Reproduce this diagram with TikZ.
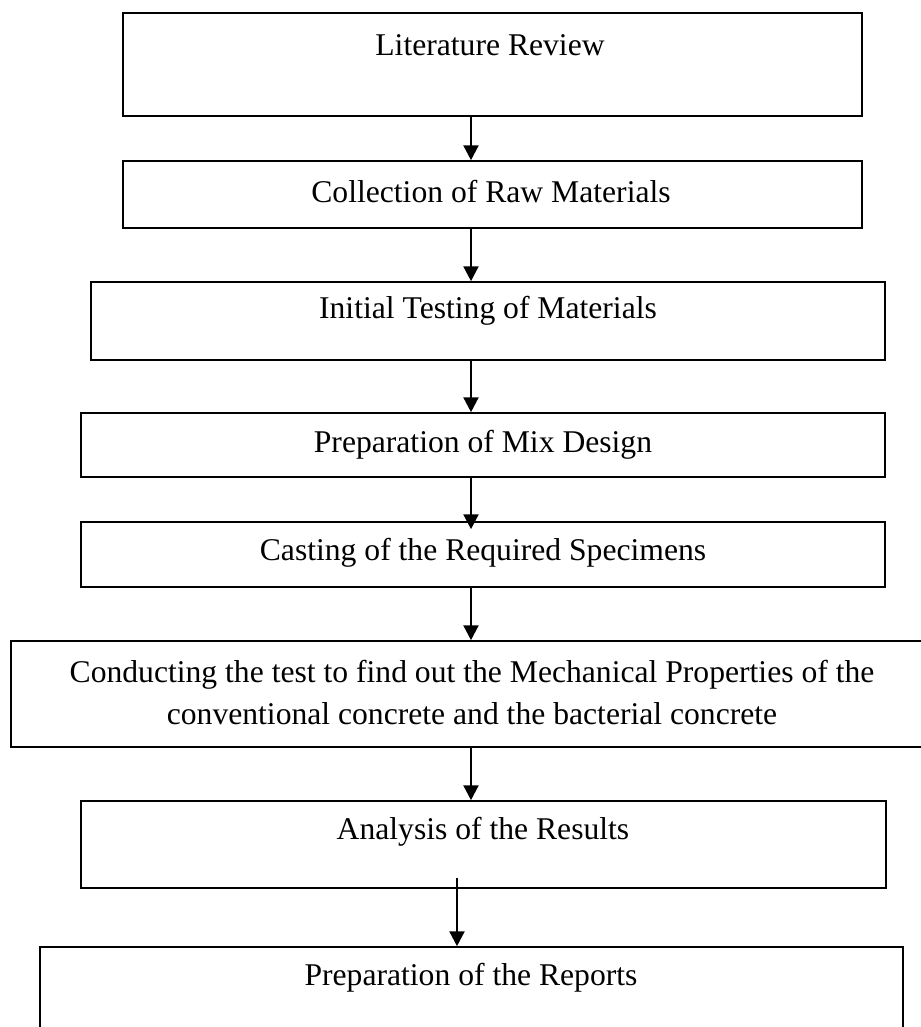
\documentclass[tikz,border=0pt]{standalone}
\usepackage{fontspec}
\setmainfont{Liberation Serif}
\usetikzlibrary{arrows.meta}
\begin{document}
\begin{tikzpicture}[font=\fontsize{22.5}{29.2}\selectfont,
  box/.style={draw,line width=1.2pt,inner sep=0pt},
  txt/.style={inner sep=0pt,align=center},
  flow/.style={line width=1.4pt,-{Triangle[width=0.375cm,length=0.37cm]}}]
\useasboundingbox (0,0) rectangle (23.025,-25.675);
% Kaesten
\node[box,minimum width=18.475cm,minimum height=2.575cm] (lit) at (12.3125,-1.6125) {};
\node[box,minimum width=18.475cm,minimum height=1.675cm] (raw) at (12.3125,-4.8625) {};
\node[box,minimum width=19.85cm,minimum height=1.95cm] (init) at (12.2,-8.025) {};
\node[box,minimum width=20.1cm,minimum height=1.6cm] (mix) at (12.075,-11.125) {};
\node[box,minimum width=20.1cm,minimum height=1.625cm] (cast) at (12.075,-13.8625) {};
\node[box,minimum width=22.925cm,minimum height=2.65cm] (test) at (11.7375,-17.35) {};
\node[box,minimum width=20.125cm,minimum height=2.175cm] (ana) at (12.0875,-21.1125) {};
\node[box,minimum width=21.575cm,minimum height=2.525cm] (rep) at (11.7875,-24.9375) {};
% Texte
\node[txt] (litT) at (12.25,-1.125) {Literature Review};
\node[txt] (rawT) at (12.275,-4.8) {Collection of Raw Materials};
\node[txt] (initT) at (12.2,-7.775) {Initial Testing of Materials};
\node[txt] (mixT) at (12.075,-11.125) {Preparation of Mix Design};
\node[txt] (castT) at (12.075,-13.825) {Casting of the Required Specimens};
\node[txt] (testT) at (11.8,-17.3125) {Conducting the test to find out the Mechanical Properties of the\\conventional concrete and the bacterial concrete};
\node[txt] (anaT) at (12.075,-20.8) {Analysis of the Results};
\node[txt] (repT) at (11.775,-24.45) {Preparation of the Reports};
% Pfeile
\coordinate (ax) at (11.775,0);
\coordinate (bx) at (11.425,0);
\draw[flow] (lit.south -| ax) -- (raw.north -| ax);
\draw[flow] (raw.south -| ax) -- (init.north -| ax);
\draw[flow] (init.south -| ax) -- (mix.north -| ax);
\draw[flow,shorten >=-0.2cm] (mix.south -| ax) -- (cast.north -| ax);
\draw[flow] (cast.south -| ax) -- (test.north -| ax);
\draw[flow] (test.south -| ax) -- (ana.north -| ax);
\draw[flow,shorten <=-0.275cm] (ana.south -| bx) -- (rep.north -| bx);
\end{tikzpicture}
\end{document}
